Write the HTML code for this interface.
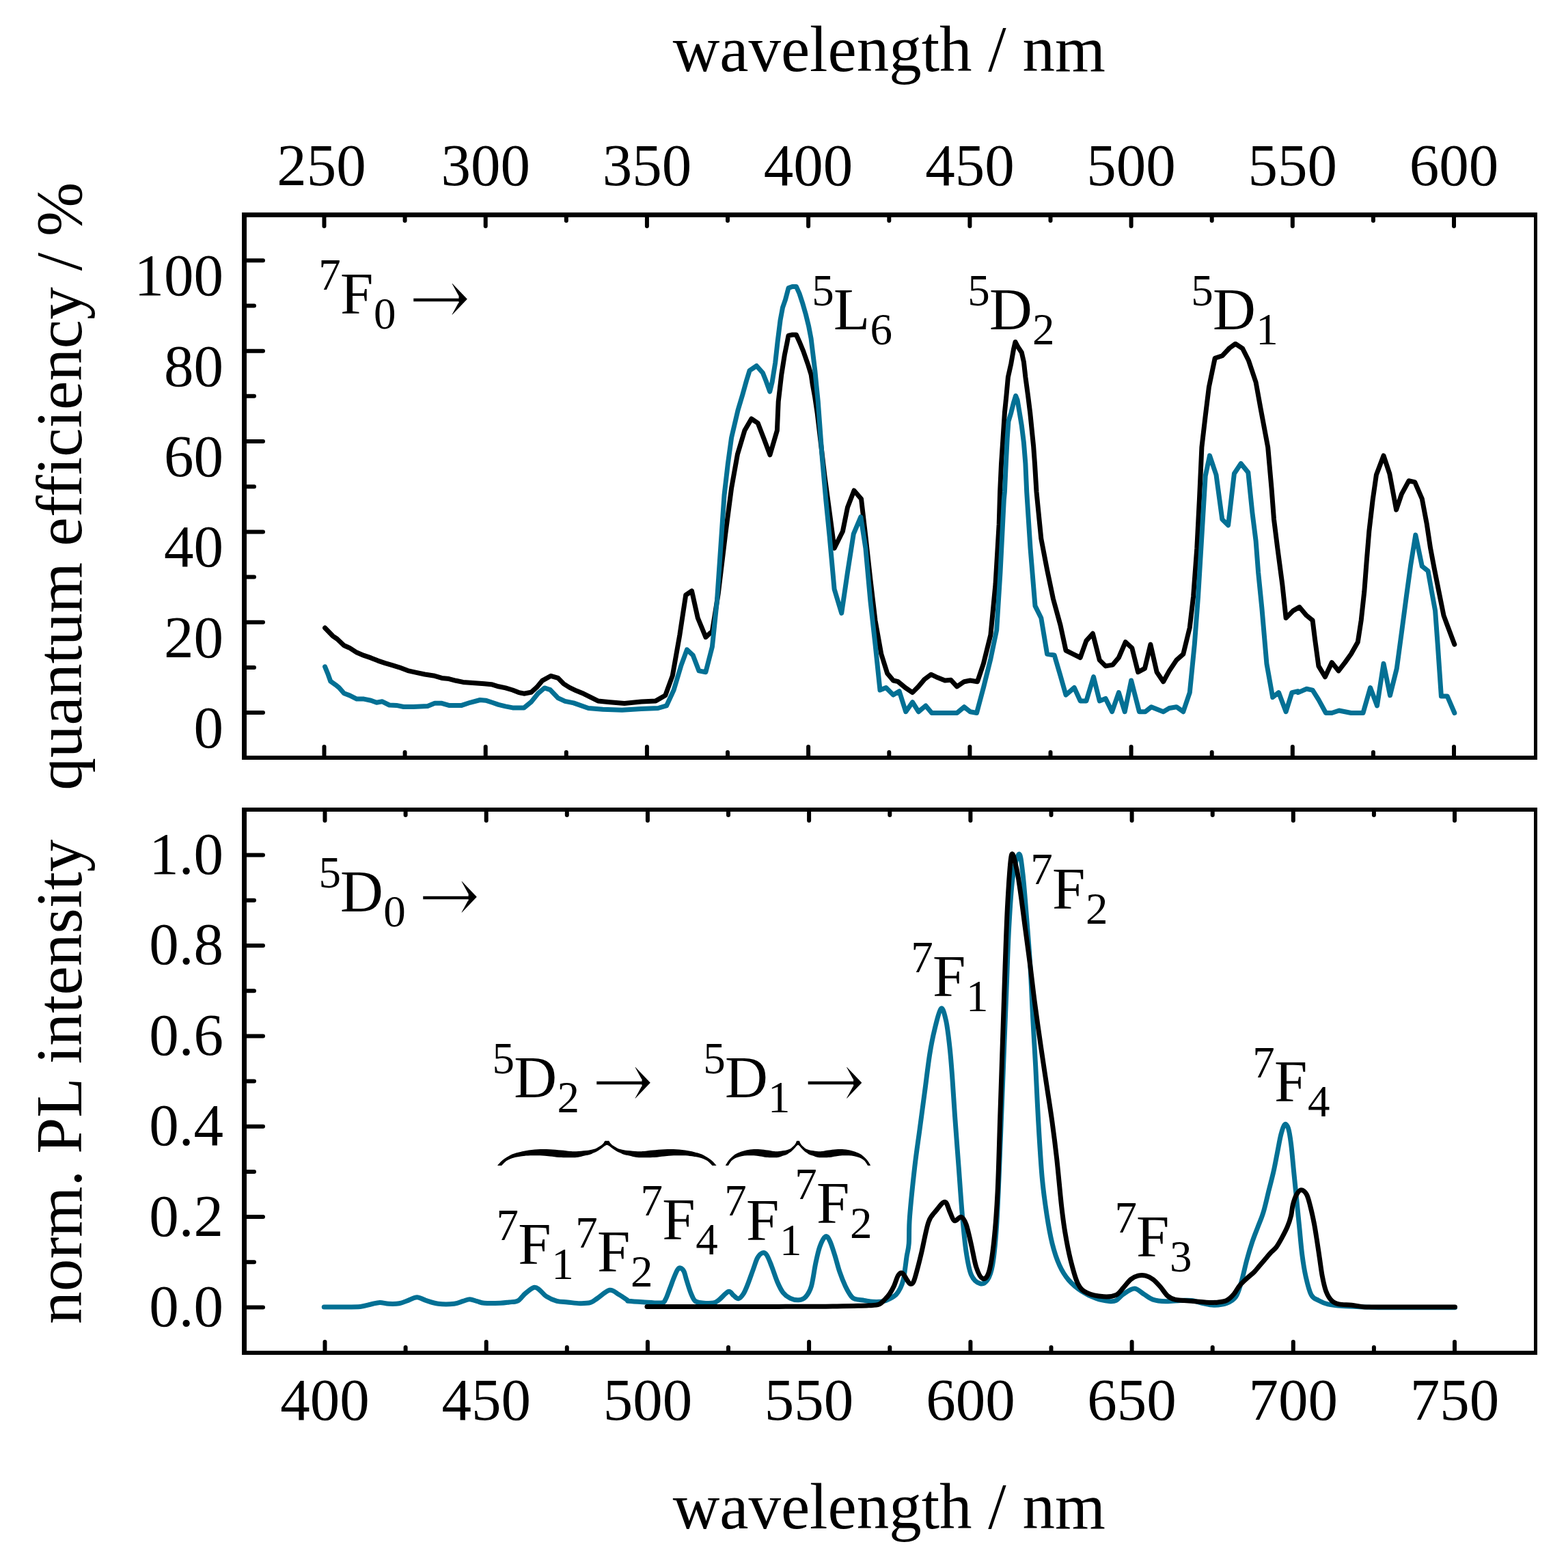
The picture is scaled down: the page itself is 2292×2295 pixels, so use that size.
<!DOCTYPE html><html><head><meta charset="utf-8"><style>html,body{margin:0;padding:0;background:#fff}svg{display:block}</style></head><body><svg width="2292" height="2295" viewBox="0 0 2292 2295"><defs><clipPath id="cs0"><rect x="603.0" y="434.2" width="70" height="8"/></clipPath><clipPath id="cs1"><rect x="617.1" y="1309.1" width="70" height="8"/></clipPath><clipPath id="cs2"><rect x="871.0" y="1580.8" width="70" height="8"/></clipPath><clipPath id="cs3"><rect x="1180.6" y="1580.8" width="70" height="8"/></clipPath><clipPath id="ch0"><path clip-rule="evenodd" d="M655.0,408.2h45v60h-45z M655.0,433.0h16.5v10.4h-16.5z"/></clipPath><clipPath id="ch1"><path clip-rule="evenodd" d="M669.1,1283.1h45v60h-45z M669.1,1307.9h16.5v10.4h-16.5z"/></clipPath><clipPath id="ch2"><path clip-rule="evenodd" d="M923.0,1554.8h45v60h-45z M923.0,1579.6h16.5v10.4h-16.5z"/></clipPath><clipPath id="ch3"><path clip-rule="evenodd" d="M1232.6,1554.8h45v60h-45z M1232.6,1579.6h16.5v10.4h-16.5z"/></clipPath></defs>
<line x1="357.5" y1="311.0" x2="357.5" y2="1112.0" stroke="#000" stroke-width="7"/>
<line x1="2247.5" y1="311.0" x2="2247.5" y2="1112.0" stroke="#000" stroke-width="5"/>
<line x1="354.0" y1="314.5" x2="2250.0" y2="314.5" stroke="#000" stroke-width="7"/>
<line x1="354.0" y1="1109.0" x2="2250.0" y2="1109.0" stroke="#000" stroke-width="6"/>
<line x1="357.5" y1="1182.0" x2="357.5" y2="1983.0" stroke="#000" stroke-width="7"/>
<line x1="2247.5" y1="1182.0" x2="2247.5" y2="1983.0" stroke="#000" stroke-width="5"/>
<line x1="354.0" y1="1185.0" x2="2250.0" y2="1185.0" stroke="#000" stroke-width="6"/>
<line x1="354.0" y1="1980.0" x2="2250.0" y2="1980.0" stroke="#000" stroke-width="6"/>
<path d="M474.5,318.0V331.0 M474.5,1106.0V1093.0 M592.6,318.0V323.0 M592.6,1106.0V1101.0 M710.7,318.0V331.0 M710.7,1106.0V1093.0 M828.8,318.0V323.0 M828.8,1106.0V1101.0 M946.9,318.0V331.0 M946.9,1106.0V1093.0 M1065.0,318.0V323.0 M1065.0,1106.0V1101.0 M1183.1,318.0V331.0 M1183.1,1106.0V1093.0 M1301.3,318.0V323.0 M1301.3,1106.0V1101.0 M1419.4,318.0V331.0 M1419.4,1106.0V1093.0 M1537.5,318.0V323.0 M1537.5,1106.0V1101.0 M1655.6,318.0V331.0 M1655.6,1106.0V1093.0 M1773.7,318.0V323.0 M1773.7,1106.0V1101.0 M1891.8,318.0V331.0 M1891.8,1106.0V1093.0 M2009.9,318.0V323.0 M2009.9,1106.0V1101.0 M2128.0,318.0V331.0 M2128.0,1106.0V1093.0 M475.5,1188.0V1201.0 M475.5,1977.0V1964.0 M593.6,1188.0V1193.0 M593.6,1977.0V1972.0 M711.7,1188.0V1201.0 M711.7,1977.0V1964.0 M829.8,1188.0V1193.0 M829.8,1977.0V1972.0 M947.9,1188.0V1201.0 M947.9,1977.0V1964.0 M1066.0,1188.0V1193.0 M1066.0,1977.0V1972.0 M1184.1,1188.0V1201.0 M1184.1,1977.0V1964.0 M1302.3,1188.0V1193.0 M1302.3,1977.0V1972.0 M1420.4,1188.0V1201.0 M1420.4,1977.0V1964.0 M1538.5,1188.0V1193.0 M1538.5,1977.0V1972.0 M1656.6,1188.0V1201.0 M1656.6,1977.0V1964.0 M1774.7,1188.0V1193.0 M1774.7,1977.0V1972.0 M1892.8,1188.0V1201.0 M1892.8,1977.0V1964.0 M2010.9,1188.0V1193.0 M2010.9,1977.0V1972.0 M2129.0,1188.0V1201.0 M2129.0,1977.0V1964.0 M361,1043.1h24 M361,976.9h11 M361,910.7h24 M361,844.6h11 M361,778.4h24 M361,712.2h11 M361,646.0h24 M361,579.8h11 M361,513.7h24 M361,447.5h11 M361,381.3h24 M361,1913.5h24 M361,1847.3h11 M361,1781.1h24 M361,1714.9h11 M361,1648.7h24 M361,1582.5h11 M361,1516.4h24 M361,1450.2h11 M361,1384.0h24 M361,1317.8h11 M361,1251.6h24" stroke="#000" stroke-width="6" stroke-linecap="round" fill="none"/>
<g font-family='"Liberation Serif", serif' font-size="87"><text x="470.5" y="270.8" text-anchor="middle">250</text><text x="710.7" y="270.8" text-anchor="middle">300</text><text x="946.9" y="270.8" text-anchor="middle">350</text><text x="1183.1" y="270.8" text-anchor="middle">400</text><text x="1419.4" y="270.8" text-anchor="middle">450</text><text x="1655.6" y="270.8" text-anchor="middle">500</text><text x="1891.8" y="270.8" text-anchor="middle">550</text><text x="2128.0" y="270.8" text-anchor="middle">600</text><text x="475.5" y="2078.2" text-anchor="middle">400</text><text x="711.7" y="2078.2" text-anchor="middle">450</text><text x="947.9" y="2078.2" text-anchor="middle">500</text><text x="1184.1" y="2078.2" text-anchor="middle">550</text><text x="1420.4" y="2078.2" text-anchor="middle">600</text><text x="1656.6" y="2078.2" text-anchor="middle">650</text><text x="1892.8" y="2078.2" text-anchor="middle">700</text><text x="2129.0" y="2078.2" text-anchor="middle">750</text><text x="327" y="1093.9" text-anchor="end">0</text><text x="327" y="961.5" text-anchor="end">20</text><text x="327" y="829.2" text-anchor="end">40</text><text x="327" y="696.8" text-anchor="end">60</text><text x="327" y="564.5" text-anchor="end">80</text><text x="327" y="432.1" text-anchor="end">100</text><text x="327" y="1940.9" text-anchor="end">0.0</text><text x="327" y="1808.5" text-anchor="end">0.2</text><text x="327" y="1676.1" text-anchor="end">0.4</text><text x="327" y="1543.8" text-anchor="end">0.6</text><text x="327" y="1411.4" text-anchor="end">0.8</text><text x="327" y="1279.0" text-anchor="end">1.0</text></g>
<g font-family='"Liberation Serif", serif' font-size="95">
<text x="984.7" y="104">wavelength / nm</text>
<text x="984.7" y="2237">wavelength / nm</text>
<text transform="translate(118.5,1156.7) rotate(-90)" font-size="95.3">quantum efficiency / %</text>
<text transform="translate(118.5,1937.9) rotate(-90)" font-size="95.4">norm. PL intensity</text>
</g>
<g font-family='"Liberation Serif", serif'>
<text x="497.9" y="458.9" font-size="87">F</text><text x="466.2" y="423.6" font-size="65">7</text><text x="546.9" y="480.9" font-size="65">0</text><g clip-path="url(#cs0)"><text transform="translate(602.0,473.8) scale(0.988,1.063)" font-family='"Noto Serif CJK SC", serif' font-size="87" stroke="#000" stroke-width="0.4">→</text></g><g clip-path="url(#ch0)"><text transform="translate(598.9,474.1) scale(1.215,1.282)" font-family='"DejaVu Serif", serif' font-size="87">→</text></g>
<text x="1219.9" y="482" font-size="87">L</text><text x="1188.2" y="446.7" font-size="65">5</text><text x="1273.6" y="504.0" font-size="65">6</text>
<text x="1447.9" y="482" font-size="87">D</text><text x="1416.2" y="446.7" font-size="65">5</text><text x="1511.1" y="504.0" font-size="65">2</text>
<text x="1775.0" y="482" font-size="87">D</text><text x="1743.3" y="446.7" font-size="65">5</text><text x="1838.2" y="504.0" font-size="65">1</text>
<text x="498.1" y="1333.8" font-size="87">D</text><text x="466.4" y="1298.5" font-size="65">5</text><text x="561.3" y="1355.8" font-size="65">0</text><g clip-path="url(#cs1)"><text transform="translate(616.1,1348.7) scale(0.988,1.063)" font-family='"Noto Serif CJK SC", serif' font-size="87" stroke="#000" stroke-width="0.4">→</text></g><g clip-path="url(#ch1)"><text transform="translate(613.0,1349.0) scale(1.215,1.282)" font-family='"DejaVu Serif", serif' font-size="87">→</text></g>
<text x="1539.9" y="1329.7" font-size="87">F</text><text x="1508.2" y="1294.4" font-size="65">7</text><text x="1588.9" y="1351.7" font-size="65">2</text>
<text x="1364.9" y="1457.9" font-size="87">F</text><text x="1333.2" y="1422.6" font-size="65">7</text><text x="1413.9" y="1479.9" font-size="65">1</text>
<text x="752.3" y="1606.2" font-size="87">D</text><text x="720.6" y="1570.9" font-size="65">5</text><text x="815.5" y="1628.2" font-size="65">2</text><g clip-path="url(#cs2)"><text transform="translate(870.0,1620.4) scale(0.988,1.063)" font-family='"Noto Serif CJK SC", serif' font-size="87" stroke="#000" stroke-width="0.4">→</text></g><g clip-path="url(#ch2)"><text transform="translate(866.9,1620.7) scale(1.215,1.282)" font-family='"DejaVu Serif", serif' font-size="87">→</text></g>
<text x="1060.9" y="1606.2" font-size="87">D</text><text x="1029.2" y="1570.9" font-size="65">5</text><text x="1124.1" y="1628.2" font-size="65">1</text><g clip-path="url(#cs3)"><text transform="translate(1179.6,1620.4) scale(0.988,1.063)" font-family='"Noto Serif CJK SC", serif' font-size="87" stroke="#000" stroke-width="0.4">→</text></g><g clip-path="url(#ch3)"><text transform="translate(1176.5,1620.7) scale(1.215,1.282)" font-family='"DejaVu Serif", serif' font-size="87">→</text></g>
<text x="758.2" y="1850.2" font-size="87">F</text><text x="726.5" y="1814.9" font-size="65">7</text><text x="807.2" y="1872.2" font-size="65">1</text>
<text x="873.9" y="1861.1" font-size="87">F</text><text x="842.2" y="1825.8" font-size="65">7</text><text x="922.9" y="1883.1" font-size="65">2</text>
<text x="969.2" y="1814" font-size="87">F</text><text x="937.5" y="1778.7" font-size="65">7</text><text x="1018.2" y="1836.0" font-size="65">4</text>
<text x="1092.0" y="1814.7" font-size="87">F</text><text x="1060.3" y="1779.4" font-size="65">7</text><text x="1141.0" y="1836.7" font-size="65">1</text>
<text x="1195.0" y="1790" font-size="87">F</text><text x="1163.3" y="1754.7" font-size="65">7</text><text x="1244.0" y="1812.0" font-size="65">2</text>
<text x="1663.1" y="1839" font-size="87">F</text><text x="1631.4" y="1803.7" font-size="65">7</text><text x="1712.1" y="1861.0" font-size="65">3</text>
<text x="1864.9" y="1611.9" font-size="87">F</text><text x="1833.2" y="1576.6" font-size="65">7</text><text x="1913.9" y="1633.9" font-size="65">4</text>
</g>
<path d="M728.00,1706.00C728.80,1705.08 731.21,1702.10 732.81,1700.50C734.41,1698.90 735.48,1697.90 737.62,1696.40C739.76,1694.90 742.69,1692.97 745.63,1691.50C748.57,1690.03 751.24,1688.80 755.25,1687.60C759.26,1686.40 764.41,1685.18 769.68,1684.30C774.94,1683.42 781.03,1682.63 786.83,1682.30C792.63,1681.97 798.77,1682.08 804.46,1682.30C810.15,1682.52 815.98,1683.15 820.97,1683.60C825.97,1684.05 830.70,1684.73 834.44,1685.00C838.18,1685.27 839.52,1685.35 843.42,1685.20C847.32,1685.05 853.76,1684.58 857.84,1684.10C861.93,1683.62 865.30,1682.95 867.94,1682.30C870.59,1681.65 871.90,1681.07 873.71,1680.20C875.53,1679.33 877.53,1677.97 878.84,1677.10C880.15,1676.23 880.74,1675.78 881.57,1675.00C882.40,1674.22 883.17,1673.22 883.81,1672.40C884.45,1671.58 884.67,1670.52 885.41,1670.10C886.16,1669.68 887.82,1669.93 888.30,1669.90L888.30,1669.90C888.78,1669.93 890.44,1669.68 891.19,1670.10C891.93,1670.52 892.15,1671.58 892.79,1672.40C893.43,1673.22 894.20,1674.22 895.03,1675.00C895.86,1675.78 896.45,1676.23 897.76,1677.10C899.07,1677.97 901.07,1679.33 902.89,1680.20C904.70,1681.07 906.01,1681.65 908.66,1682.30C911.30,1682.95 914.67,1683.62 918.76,1684.10C922.84,1684.58 929.28,1685.05 933.18,1685.20C937.08,1685.35 938.42,1685.27 942.16,1685.00C945.90,1684.73 950.63,1684.05 955.63,1683.60C960.62,1683.15 966.45,1682.52 972.14,1682.30C977.83,1682.08 983.97,1681.97 989.77,1682.30C995.57,1682.63 1001.66,1683.42 1006.92,1684.30C1012.19,1685.18 1017.34,1686.40 1021.35,1687.60C1025.36,1688.80 1028.03,1690.03 1030.97,1691.50C1033.91,1692.97 1036.84,1694.90 1038.98,1696.40C1041.12,1697.90 1042.19,1698.90 1043.79,1700.50C1045.39,1702.10 1047.80,1705.08 1048.60,1706.00L1042.51,1706.00C1041.79,1705.25 1039.62,1702.80 1038.18,1701.50C1036.74,1700.20 1036.12,1699.35 1033.85,1698.20C1031.58,1697.05 1028.08,1695.58 1024.55,1694.60C1021.03,1693.62 1016.70,1692.85 1012.69,1692.30C1008.69,1691.75 1004.94,1691.47 1000.51,1691.30C996.08,1691.13 990.89,1691.08 986.08,1691.30C981.27,1691.52 976.36,1692.15 971.66,1692.60C966.95,1693.05 963.11,1693.73 957.87,1694.00C952.63,1694.27 944.81,1694.25 940.24,1694.20C935.67,1694.15 933.66,1694.13 930.46,1693.70C927.25,1693.27 923.91,1692.25 921.00,1691.60C918.09,1690.95 915.15,1690.47 912.99,1689.80C910.82,1689.13 909.70,1688.37 908.02,1687.60C906.33,1686.83 904.52,1686.10 902.89,1685.20C901.26,1684.30 899.71,1683.20 898.24,1682.20C896.77,1681.20 895.33,1680.10 894.07,1679.20C892.82,1678.30 891.67,1677.37 890.70,1676.80C889.74,1676.23 888.70,1675.97 888.30,1675.80L888.30,1675.80C887.90,1675.97 886.86,1676.23 885.90,1676.80C884.93,1677.37 883.78,1678.30 882.53,1679.20C881.27,1680.10 879.83,1681.20 878.36,1682.20C876.89,1683.20 875.34,1684.30 873.71,1685.20C872.08,1686.10 870.27,1686.83 868.58,1687.60C866.90,1688.37 865.78,1689.13 863.61,1689.80C861.45,1690.47 858.51,1690.95 855.60,1691.60C852.69,1692.25 849.35,1693.27 846.14,1693.70C842.94,1694.13 840.93,1694.15 836.36,1694.20C831.79,1694.25 823.97,1694.27 818.73,1694.00C813.49,1693.73 809.65,1693.05 804.94,1692.60C800.24,1692.15 795.33,1691.52 790.52,1691.30C785.71,1691.08 780.52,1691.13 776.09,1691.30C771.66,1691.47 767.91,1691.75 763.91,1692.30C759.90,1692.85 755.57,1693.62 752.04,1694.60C748.52,1695.58 745.02,1697.05 742.75,1698.20C740.48,1699.35 739.86,1700.20 738.42,1701.50C736.98,1702.80 734.81,1705.25 734.09,1706.00Z" fill="#000"/>
<path d="M1061.80,1706.00C1062.33,1705.08 1063.92,1702.10 1064.99,1700.50C1066.05,1698.90 1066.76,1697.90 1068.17,1696.40C1069.59,1694.90 1071.53,1692.97 1073.48,1691.50C1075.43,1690.03 1077.20,1688.80 1079.85,1687.60C1082.51,1686.40 1085.93,1685.18 1089.41,1684.30C1092.90,1683.42 1096.93,1682.63 1100.78,1682.30C1104.62,1681.97 1108.69,1682.08 1112.46,1682.30C1116.23,1682.52 1120.09,1683.15 1123.40,1683.60C1126.71,1684.05 1129.84,1684.73 1132.32,1685.00C1134.79,1685.27 1135.68,1685.35 1138.26,1685.20C1140.85,1685.05 1145.11,1684.58 1147.82,1684.10C1150.53,1683.62 1152.76,1682.95 1154.51,1682.30C1156.26,1681.65 1157.13,1681.07 1158.34,1680.20C1159.54,1679.33 1160.87,1677.97 1161.73,1677.10C1162.60,1676.23 1162.99,1675.78 1163.54,1675.00C1164.09,1674.22 1164.60,1673.22 1165.03,1672.40C1165.45,1671.58 1165.59,1670.52 1166.09,1670.10C1166.58,1669.68 1167.68,1669.93 1168.00,1669.90L1168.00,1669.90C1168.32,1669.93 1169.42,1669.68 1169.91,1670.10C1170.41,1670.52 1170.55,1671.58 1170.97,1672.40C1171.40,1673.22 1171.91,1674.22 1172.46,1675.00C1173.01,1675.78 1173.40,1676.23 1174.27,1677.10C1175.13,1677.97 1176.46,1679.33 1177.66,1680.20C1178.87,1681.07 1179.74,1681.65 1181.49,1682.30C1183.24,1682.95 1185.47,1683.62 1188.18,1684.10C1190.89,1684.58 1195.15,1685.05 1197.74,1685.20C1200.32,1685.35 1201.21,1685.27 1203.68,1685.00C1206.16,1684.73 1209.29,1684.05 1212.60,1683.60C1215.91,1683.15 1219.77,1682.52 1223.54,1682.30C1227.31,1682.08 1231.38,1681.97 1235.22,1682.30C1239.07,1682.63 1243.10,1683.42 1246.59,1684.30C1250.07,1685.18 1253.49,1686.40 1256.15,1687.60C1258.80,1688.80 1260.57,1690.03 1262.52,1691.50C1264.47,1692.97 1266.41,1694.90 1267.83,1696.40C1269.24,1697.90 1269.95,1698.90 1271.01,1700.50C1272.08,1702.10 1273.67,1705.08 1274.20,1706.00L1270.16,1706.00C1269.69,1705.25 1268.25,1702.80 1267.30,1701.50C1266.34,1700.20 1265.93,1699.35 1264.43,1698.20C1262.93,1697.05 1260.61,1695.58 1258.27,1694.60C1255.93,1693.62 1253.07,1692.85 1250.41,1692.30C1247.76,1691.75 1245.28,1691.47 1242.34,1691.30C1239.40,1691.13 1235.97,1691.08 1232.78,1691.30C1229.60,1691.52 1226.34,1692.15 1223.22,1692.60C1220.11,1693.05 1217.56,1693.73 1214.09,1694.00C1210.62,1694.27 1205.44,1694.25 1202.41,1694.20C1199.38,1694.15 1198.05,1694.13 1195.93,1693.70C1193.81,1693.27 1191.59,1692.25 1189.66,1691.60C1187.74,1690.95 1185.79,1690.47 1184.35,1689.80C1182.92,1689.13 1182.18,1688.37 1181.06,1687.60C1179.95,1686.83 1178.74,1686.10 1177.66,1685.20C1176.58,1684.30 1175.56,1683.20 1174.58,1682.20C1173.61,1681.20 1172.66,1680.10 1171.82,1679.20C1170.99,1678.30 1170.23,1677.37 1169.59,1676.80C1168.96,1676.23 1168.27,1675.97 1168.00,1675.80L1168.00,1675.80C1167.73,1675.97 1167.04,1676.23 1166.41,1676.80C1165.77,1677.37 1165.01,1678.30 1164.18,1679.20C1163.34,1680.10 1162.39,1681.20 1161.42,1682.20C1160.44,1683.20 1159.42,1684.30 1158.34,1685.20C1157.26,1686.10 1156.05,1686.83 1154.94,1687.60C1153.82,1688.37 1153.08,1689.13 1151.65,1689.80C1150.21,1690.47 1148.26,1690.95 1146.34,1691.60C1144.41,1692.25 1142.19,1693.27 1140.07,1693.70C1137.95,1694.13 1136.62,1694.15 1133.59,1694.20C1130.56,1694.25 1125.38,1694.27 1121.91,1694.00C1118.44,1693.73 1115.89,1693.05 1112.78,1692.60C1109.66,1692.15 1106.40,1691.52 1103.22,1691.30C1100.03,1691.08 1096.60,1691.13 1093.66,1691.30C1090.72,1691.47 1088.24,1691.75 1085.59,1692.30C1082.93,1692.85 1080.07,1693.62 1077.73,1694.60C1075.39,1695.58 1073.07,1697.05 1071.57,1698.20C1070.07,1699.35 1069.66,1700.20 1068.70,1701.50C1067.75,1702.80 1066.31,1705.25 1065.84,1706.00Z" fill="#000"/>
<polyline points="475.6,919.0 487.0,930.8 493.2,935.0 503.5,944.7 511.8,948.4 522.2,955.1 532.6,959.4 542.9,962.9 553.3,967.1 563.7,970.6 574.0,973.7 584.4,976.8 596.9,981.6 609.3,984.3 621.7,987.0 636.3,989.3 646.6,992.4 657.0,993.6 667.4,996.3 677.7,998.4 688.1,999.2 698.5,999.9 708.8,1000.7 719.2,1001.7 729.6,1004.8 739.9,1006.9 750.3,1010.0 758.6,1013.3 766.9,1015.2 777.3,1013.3 785.6,1005.9 793.9,996.1 806.3,989.3 816.7,992.4 825.0,1000.9 833.3,1006.1 843.6,1011.1 854.1,1015.3 875.2,1025.9 892.8,1027.7 913.9,1029.4 938.6,1027.0 959.7,1025.9 973.8,1017.8 984.3,988.9 994.9,929.1 1003.7,871.0 1012.5,865.0 1021.3,904.5 1032.9,932.6 1042.4,923.8 1051.2,869.3 1061.8,781.3 1070.6,714.4 1079.4,665.1 1089.9,629.9 1099.8,613.0 1109.3,619.4 1118.1,642.2 1126.9,665.8 1137.4,629.9 1139.2,587.9 1143.8,548.1 1148.3,519.6 1151.8,502.5 1154.0,491.1 1159.7,490.0 1165.4,490.0 1170.0,500.2 1175.7,513.9 1182.5,533.3 1187.1,548.1 1189.3,562.9 1192.8,582.2 1196.2,605.0 1207.0,696.8 1214.1,749.6 1221.1,802.4 1233.4,777.7 1240.5,742.5 1250.0,717.9 1260.5,730.2 1266.9,784.8 1273.9,848.1 1281.0,908.0 1289.8,957.3 1298.6,985.4 1307.4,996.0 1314.4,997.7 1325.0,1006.5 1335.5,1013.6 1344.3,1004.8 1353.1,994.2 1362.6,987.2 1372.5,991.8 1383.0,996.0 1391.8,995.3 1400.6,1004.8 1411.2,997.7 1420.0,996.0 1430.6,997.7 1439.4,971.3 1449.9,929.1 1457.0,855.2 1462.2,767.2 1463.6,720.0 1465.5,678.8 1468.0,641.5 1470.4,604.2 1472.9,579.4 1475.4,552.0 1479.8,532.2 1483.5,511.1 1486.0,500.5 1489.7,507.3 1495.3,516.0 1498.4,529.7 1500.9,552.0 1504.6,579.4 1507.7,604.2 1510.2,629.1 1512.7,653.9 1514.5,678.8 1517.0,720.0 1523.8,788.3 1532.6,834.1 1541.4,876.3 1552.0,915.0 1560.0,952.0 1570.6,957.3 1581.1,962.5 1589.9,937.9 1599.4,927.3 1609.3,966.1 1618.1,974.9 1628.6,973.1 1637.4,962.5 1647.3,939.7 1656.8,948.5 1665.6,983.7 1675.5,978.4 1683.9,943.2 1693.1,983.7 1702.6,997.7 1711.4,981.9 1721.9,966.1 1731.8,957.3 1741.3,918.5 1746.6,872.8 1751.8,802.4 1755.4,732.0 1758.9,654.6 1764.2,608.8 1769.4,566.6 1778.2,524.3 1788.8,520.8 1799.4,509.5 1808.2,503.2 1818.7,510.2 1827.5,527.8 1838.1,559.5 1845.1,598.2 1855.7,654.6 1861.0,714.4 1864.5,760.1 1869.8,802.4 1876.8,855.2 1882.1,904.5 1892.6,893.9 1901.8,888.6 1912.3,900.9 1921.1,908.0 1924.6,936.1 1929.9,974.9 1939.4,990.7 1949.3,969.6 1959.1,981.9 1968.6,969.6 1977.4,957.3 1987.3,939.7 1992.2,908.0 1996.8,865.7 2000.3,820.0 2003.8,777.7 2009.1,732.0 2014.4,695.0 2025.0,666.9 2033.8,693.3 2043.6,746.1 2051.4,723.2 2061.9,703.8 2070.7,705.6 2081.3,730.2 2088.3,767.2 2093.6,802.4 2098.9,830.5 2105.9,865.7 2113.0,900.9 2118.2,915.0 2128.8,943.2" fill="none" stroke="#000" stroke-width="7" stroke-linejoin="round" stroke-linecap="round"/>
<polyline points="475.6,975.8 479.7,985.8 483.8,997.2 491.1,1002.3 496.3,1006.5 503.5,1014.8 511.8,1017.9 522.2,1023.1 532.6,1023.1 542.9,1025.2 551.2,1028.3 559.5,1026.8 569.9,1032.0 580.3,1032.4 590.6,1034.5 605.2,1034.5 625.9,1033.4 636.3,1029.3 646.6,1029.3 657.0,1032.4 675.7,1032.4 688.1,1028.3 702.6,1024.5 710.9,1025.2 721.3,1028.5 729.6,1031.4 739.9,1033.9 750.3,1035.9 766.9,1035.9 777.3,1027.6 787.6,1014.8 797.0,1006.9 805.3,1009.6 816.7,1021.6 827.0,1026.4 839.5,1028.9 861.1,1036.5 882.2,1038.2 910.4,1039.3 938.6,1037.5 963.2,1036.5 975.5,1032.9 986.1,1010.1 996.6,974.9 1005.4,950.9 1014.2,959.0 1023.0,981.9 1032.9,983.7 1042.4,946.7 1049.4,879.8 1054.7,802.4 1060.0,724.9 1065.3,679.2 1070.6,640.5 1080.0,600.5 1086.8,577.7 1092.5,557.2 1097.1,542.4 1107.3,535.5 1116.4,545.8 1121.0,557.2 1126.7,573.1 1130.1,559.5 1134.7,531.0 1138.1,500.2 1142.1,468.3 1145.5,450.1 1149.5,438.7 1154.0,421.6 1159.7,419.4 1165.4,419.4 1170.0,429.6 1174.5,443.3 1179.1,459.2 1183.6,477.4 1187.1,495.7 1189.3,513.9 1192.8,542.4 1195.0,565.1 1197.3,587.9 1203.5,672.2 1208.8,732.0 1214.1,784.8 1221.1,862.2 1231.7,897.4 1240.5,837.6 1249.3,781.3 1259.8,756.6 1266.9,802.4 1273.9,879.8 1281.0,943.2 1288.0,1010.1 1296.8,1006.5 1307.4,1017.1 1316.2,1011.8 1325.7,1041.7 1335.5,1027.7 1344.3,1041.7 1354.9,1032.9 1363.7,1043.5 1400.6,1043.5 1411.2,1034.7 1420.0,1041.7 1429.5,1043.5 1439.4,1006.5 1449.9,964.3 1458.7,922.1 1464.0,837.6 1469.3,732.0 1470.4,720.0 1472.3,678.8 1474.2,641.5 1476.0,616.6 1479.8,604.2 1483.5,589.3 1486.6,579.4 1489.1,585.6 1492.2,604.2 1495.3,622.9 1498.4,647.7 1500.9,678.8 1502.7,720.0 1508.0,802.4 1515.0,886.9 1523.8,904.5 1532.6,957.3 1543.2,959.0 1552.0,988.9 1560.0,1017.1 1572.3,1006.5 1581.1,1025.9 1589.9,1025.9 1600.5,990.7 1609.3,1025.9 1618.1,1022.4 1627.6,1041.7 1637.4,1013.6 1646.2,1041.7 1655.7,996.0 1667.4,1041.7 1676.2,1041.7 1685.0,1034.7 1702.6,1041.7 1711.4,1036.5 1721.9,1034.7 1731.8,1041.7 1741.3,1013.6 1748.3,943.2 1753.6,872.8 1758.9,784.8 1764.2,696.8 1770.5,666.9 1780.0,695.0 1788.8,760.1 1797.6,768.9 1806.4,693.3 1816.2,678.5 1826.8,691.5 1832.8,749.6 1838.1,791.8 1841.6,837.6 1846.9,890.4 1853.9,971.3 1862.7,1020.6 1871.5,1013.6 1882.1,1041.7 1890.9,1013.6 1899.7,1011.8 1900.0,1013.6 1912.3,1008.3 1921.1,1010.1 1929.9,1024.1 1940.5,1043.5 1949.3,1043.5 1959.8,1040.0 1977.4,1043.5 1995.0,1043.5 2005.6,1006.5 2015.5,1032.9 2025.0,971.3 2034.5,1017.8 2044.3,978.4 2051.4,925.6 2058.4,872.8 2064.7,827.0 2071.8,783.0 2081.3,828.8 2090.1,835.8 2095.4,865.7 2100.6,893.9 2104.2,943.2 2109.4,1018.9 2118.2,1018.9 2128.8,1043.5" fill="none" stroke="#037094" stroke-width="7" stroke-linejoin="round" stroke-linecap="round"/>
<path d="M474.26,1912.93C478.36,1912.93 490.02,1913.02 498.88,1912.93C507.74,1912.84 520.05,1913.06 527.39,1912.41C534.74,1911.76 538.19,1910.03 542.94,1909.04C547.70,1908.05 551.58,1906.58 555.90,1906.45C560.22,1906.32 564.11,1908.05 568.86,1908.26C573.62,1908.48 579.66,1908.57 584.42,1907.74C589.17,1906.92 593.06,1904.85 597.38,1903.34C601.70,1901.83 606.02,1898.67 610.34,1898.67C614.66,1898.67 618.11,1901.74 623.30,1903.34C628.48,1904.94 634.53,1907.44 641.44,1908.26C648.35,1909.08 658.72,1908.91 664.77,1908.26C670.82,1907.62 673.93,1905.46 677.73,1904.38C681.53,1903.30 684.12,1901.74 687.58,1901.78C691.04,1901.83 694.92,1903.73 698.47,1904.63C702.01,1905.54 703.22,1906.79 708.83,1907.23C714.45,1907.66 726.11,1907.44 732.16,1907.23C738.21,1907.01 740.80,1906.49 745.12,1905.93C749.44,1905.37 754.19,1905.93 758.08,1903.86C761.97,1901.78 764.56,1896.73 768.45,1893.49C772.34,1890.25 777.95,1885.41 781.41,1884.42C784.87,1883.42 786.16,1885.37 789.19,1887.53C792.21,1889.69 795.23,1894.57 799.55,1897.38C803.87,1900.18 809.92,1902.95 815.11,1904.38C820.29,1905.80 825.04,1905.37 830.66,1905.93C836.27,1906.49 843.19,1907.66 848.80,1907.74C854.42,1907.83 860.03,1907.74 864.35,1906.45C868.67,1905.15 870.06,1902.99 874.72,1899.97C879.39,1896.94 887.16,1889.17 892.35,1888.30C897.53,1887.44 901.42,1892.28 905.83,1894.78C910.23,1897.29 916.42,1901.76 918.79,1903.34C921.15,1904.92 916.34,1903.86 920.00,1904.25C923.66,1904.64 932.79,1905.25 940.74,1905.70C948.68,1906.15 962.16,1907.53 967.69,1906.95C973.22,1906.36 971.84,1905.56 973.91,1902.18C975.99,1898.79 978.06,1891.98 980.13,1886.63C982.21,1881.27 984.45,1874.70 986.36,1870.04C988.26,1865.37 989.98,1860.98 991.54,1858.63C993.09,1856.28 994.13,1855.59 995.69,1855.94C997.24,1856.28 999.32,1857.66 1000.87,1860.71C1002.43,1863.75 1003.29,1868.83 1005.02,1874.18C1006.75,1879.54 1009.17,1887.83 1011.24,1892.85C1013.31,1897.86 1014.70,1901.90 1017.46,1904.25C1020.22,1906.60 1023.34,1906.50 1027.83,1906.95C1032.32,1907.40 1040.27,1907.74 1044.42,1906.95C1048.56,1906.15 1049.08,1904.94 1052.71,1902.18C1056.34,1899.41 1062.73,1891.39 1066.19,1890.36C1069.65,1889.32 1071.03,1894.23 1073.45,1895.96C1075.87,1897.68 1078.29,1901.07 1080.71,1900.73C1083.12,1900.38 1085.72,1897.27 1087.96,1893.88C1090.21,1890.50 1091.76,1886.45 1094.18,1880.40C1096.60,1874.36 1100.06,1864.16 1102.48,1857.59C1104.90,1851.03 1106.45,1844.98 1108.70,1841.01C1110.95,1837.03 1113.71,1834.44 1115.96,1833.75C1118.20,1833.06 1119.93,1833.58 1122.18,1836.86C1124.42,1840.14 1126.84,1846.88 1129.43,1853.45C1132.03,1860.01 1134.96,1869.86 1137.73,1876.26C1140.49,1882.65 1142.91,1887.83 1146.02,1891.81C1149.13,1895.78 1152.59,1898.27 1156.39,1900.10C1160.19,1901.94 1165.03,1903.14 1168.83,1902.80C1172.64,1902.45 1176.09,1901.42 1179.20,1898.03C1182.31,1894.64 1185.08,1890.60 1187.50,1882.48C1189.92,1874.36 1191.64,1858.98 1193.72,1849.30C1195.79,1839.62 1197.52,1830.98 1199.94,1824.42C1202.36,1817.85 1205.81,1811.28 1208.23,1809.90C1210.65,1808.52 1212.21,1811.63 1214.45,1816.12C1216.70,1820.62 1219.29,1829.26 1221.71,1836.86C1224.13,1844.46 1226.38,1854.14 1228.97,1861.74C1231.56,1869.35 1234.39,1876.47 1237.26,1882.48C1240.14,1888.49 1243.69,1894.61 1246.22,1897.78C1248.75,1900.96 1249.33,1900.58 1252.45,1901.52C1255.56,1902.45 1260.74,1902.76 1264.89,1903.39C1269.04,1904.01 1272.67,1905.04 1277.34,1905.25C1282.00,1905.46 1288.75,1905.36 1292.89,1904.63C1297.04,1903.90 1299.12,1902.56 1302.23,1900.90C1305.34,1899.24 1308.97,1897.27 1311.56,1894.67C1314.15,1892.08 1316.02,1888.97 1317.78,1885.34C1319.55,1881.71 1321.00,1877.56 1322.14,1872.89C1323.28,1868.23 1323.80,1863.04 1324.63,1857.34C1325.46,1851.63 1326.19,1844.89 1327.12,1838.67C1328.05,1832.45 1329.51,1829.57 1330.23,1820.00C1330.95,1810.43 1330.02,1799.97 1331.45,1781.27C1332.88,1762.56 1336.35,1729.20 1338.80,1707.77C1341.25,1686.33 1343.70,1671.01 1346.15,1652.64C1348.60,1634.26 1351.05,1615.89 1353.50,1597.51C1355.95,1579.14 1358.40,1557.70 1360.85,1542.39C1363.30,1527.07 1365.45,1516.66 1368.20,1505.63C1370.96,1494.61 1374.63,1478.07 1377.39,1476.23C1380.15,1474.40 1382.60,1484.81 1384.74,1494.61C1386.88,1504.41 1388.72,1520.95 1390.25,1535.03C1391.78,1549.12 1392.70,1562.60 1393.93,1579.14C1395.15,1595.67 1396.07,1612.82 1397.60,1634.26C1399.14,1655.70 1401.28,1683.26 1403.12,1707.77C1404.95,1732.27 1406.79,1760.44 1408.63,1781.27C1410.47,1802.09 1412.00,1818.63 1414.14,1832.72C1416.29,1846.81 1418.12,1858.14 1421.49,1865.80C1424.86,1873.45 1430.37,1877.43 1434.36,1878.66C1438.34,1879.88 1442.32,1877.74 1445.38,1873.15C1448.44,1868.55 1450.59,1863.35 1452.73,1851.10C1454.87,1838.84 1456.71,1820.47 1458.24,1799.64C1459.77,1778.82 1460.69,1753.70 1461.92,1726.14C1463.14,1698.58 1464.37,1664.89 1465.59,1634.26C1466.82,1603.64 1468.04,1573.01 1469.27,1542.39C1470.49,1511.76 1471.72,1481.13 1472.94,1450.51C1474.17,1419.88 1475.09,1386.19 1476.62,1358.63C1478.15,1331.07 1479.68,1303.20 1482.13,1285.13C1484.58,1267.06 1488.87,1251.44 1491.32,1250.21C1493.77,1248.99 1494.99,1262.77 1496.83,1277.78C1498.67,1292.78 1500.51,1317.59 1502.34,1340.25C1504.18,1362.92 1506.33,1389.26 1507.86,1413.76C1509.39,1438.26 1510.22,1462.64 1511.53,1487.26C1512.85,1511.88 1514.37,1535.64 1515.75,1561.46C1517.12,1587.29 1518.21,1615.29 1519.78,1642.20C1521.35,1669.11 1523.15,1700.50 1525.17,1722.93C1527.19,1745.35 1529.43,1760.60 1531.89,1776.75C1534.36,1792.90 1536.83,1807.25 1539.97,1819.81C1543.11,1832.36 1546.70,1843.13 1550.73,1852.10C1554.77,1861.07 1558.81,1867.35 1564.19,1873.63C1569.57,1879.91 1576.30,1885.29 1583.02,1889.77C1589.75,1894.26 1597.83,1898.07 1604.55,1900.54C1611.28,1903.01 1618.57,1904.08 1623.39,1904.57C1628.21,1905.07 1630.00,1905.24 1633.48,1903.49C1636.96,1901.73 1639.77,1896.97 1644.26,1894.05C1648.75,1891.13 1655.49,1885.96 1660.44,1885.96C1665.38,1885.96 1669.42,1891.35 1673.91,1894.05C1678.41,1896.75 1682.00,1900.34 1687.39,1902.14C1692.78,1903.93 1699.52,1904.61 1706.26,1904.83C1713.00,1905.06 1721.54,1903.71 1727.83,1903.49C1734.12,1903.26 1738.61,1902.81 1744.00,1903.49C1749.39,1904.16 1754.79,1906.41 1760.18,1907.53C1765.57,1908.65 1770.51,1910.22 1776.35,1910.22C1782.19,1910.22 1789.83,1909.55 1795.22,1907.53C1800.61,1905.51 1805.11,1903.26 1808.70,1898.09C1812.29,1892.93 1814.09,1885.51 1816.79,1876.53C1819.48,1867.54 1822.18,1854.06 1824.87,1844.18C1827.57,1834.30 1830.27,1825.31 1832.96,1817.22C1835.66,1809.14 1838.35,1802.85 1841.05,1795.66C1843.74,1788.47 1846.44,1783.08 1849.14,1774.09C1851.83,1765.11 1854.75,1751.63 1857.22,1741.74C1859.69,1731.86 1861.94,1723.77 1863.96,1714.79C1865.98,1705.80 1867.56,1696.81 1869.35,1687.83C1871.15,1678.84 1872.95,1667.84 1874.74,1660.87C1876.54,1653.91 1878.34,1647.62 1880.14,1646.04C1881.93,1644.47 1883.95,1646.72 1885.53,1651.44C1887.10,1656.15 1888.22,1663.79 1889.57,1674.35C1890.92,1684.91 1892.27,1701.31 1893.61,1714.79C1894.96,1728.26 1896.31,1741.74 1897.66,1755.22C1899.01,1768.70 1900.35,1782.18 1901.70,1795.66C1903.05,1809.14 1904.17,1823.96 1905.75,1836.09C1907.32,1848.22 1908.89,1858.56 1911.14,1868.44C1913.38,1878.33 1916.08,1889.56 1919.22,1895.40C1922.37,1901.24 1925.96,1901.24 1930.01,1903.49C1934.05,1905.73 1937.64,1907.53 1943.49,1908.88C1949.33,1910.22 1956.06,1910.90 1965.05,1911.57C1974.04,1912.25 1987.51,1912.56 1997.40,1912.92C2007.28,1913.28 2002.34,1913.59 2024.36,1913.73C2046.37,1913.86 2111.97,1913.73 2129.49,1913.73" fill="none" stroke="#037094" stroke-width="7" stroke-linejoin="round" stroke-linecap="round"/>
<path d="M946.96,1912.55C959.74,1912.55 993.61,1912.55 1023.68,1912.55C1053.75,1912.55 1104.64,1912.60 1127.36,1912.55C1150.09,1912.49 1147.93,1912.28 1160.04,1912.22C1172.14,1912.17 1189.16,1912.27 1199.99,1912.22C1210.82,1912.17 1216.67,1912.03 1225.00,1911.91C1233.33,1911.79 1242.27,1911.65 1249.96,1911.47C1257.64,1911.30 1264.99,1911.27 1271.11,1910.85C1277.23,1910.44 1282.52,1910.65 1286.67,1908.99C1290.82,1907.33 1293.41,1903.49 1296.00,1900.90C1298.60,1898.30 1300.15,1896.54 1302.23,1893.43C1304.30,1890.32 1306.38,1886.69 1308.45,1882.23C1310.52,1877.77 1312.60,1869.78 1314.67,1866.67C1316.75,1863.56 1318.82,1862.52 1320.90,1863.56C1322.97,1864.60 1325.25,1870.30 1327.12,1872.89C1328.99,1875.49 1330.44,1878.60 1332.10,1879.12C1333.76,1879.63 1335.31,1879.63 1337.08,1876.00C1338.84,1872.38 1340.71,1864.60 1342.68,1857.34C1344.65,1850.08 1346.18,1843.90 1348.90,1832.45C1351.62,1820.99 1355.49,1798.68 1359.02,1788.62C1362.54,1778.56 1366.06,1776.98 1370.04,1772.08C1374.02,1767.18 1379.53,1758.91 1382.90,1759.22C1386.27,1759.52 1387.93,1769.32 1390.25,1773.92C1392.58,1778.51 1394.11,1785.56 1396.87,1786.78C1399.63,1788.01 1403.91,1780.35 1406.79,1781.27C1409.67,1782.19 1411.69,1785.56 1414.14,1792.29C1416.59,1799.03 1419.04,1811.28 1421.49,1821.69C1423.94,1832.11 1426.09,1846.50 1428.84,1854.77C1431.60,1863.04 1434.97,1870.08 1438.03,1871.31C1441.09,1872.53 1444.46,1871.00 1447.22,1862.12C1449.97,1853.24 1452.42,1837.62 1454.57,1818.02C1456.71,1798.42 1458.55,1775.14 1460.08,1744.52C1461.61,1713.89 1462.53,1671.01 1463.76,1634.26C1464.98,1597.51 1466.21,1560.76 1467.43,1524.01C1468.66,1487.26 1469.88,1447.44 1471.11,1413.76C1472.33,1380.07 1473.25,1348.83 1474.78,1321.88C1476.31,1294.93 1478.15,1260.63 1480.29,1252.05C1482.44,1243.48 1485.50,1261.85 1487.64,1270.43C1489.79,1279.00 1491.01,1288.80 1493.16,1303.50C1495.30,1318.20 1498.06,1340.25 1500.51,1358.63C1502.96,1377.00 1505.54,1395.65 1507.86,1413.76C1510.17,1431.86 1511.74,1447.14 1514.40,1467.28C1517.06,1487.41 1520.91,1514.37 1523.82,1534.55C1526.74,1554.74 1529.20,1570.43 1531.89,1588.37C1534.59,1606.32 1537.50,1624.26 1539.97,1642.20C1542.43,1660.14 1544.45,1675.83 1546.70,1696.02C1548.94,1716.20 1551.40,1745.35 1553.42,1763.29C1555.44,1781.23 1556.56,1790.20 1558.81,1803.66C1561.05,1817.12 1563.74,1831.47 1566.88,1844.03C1570.02,1856.58 1573.61,1870.94 1577.64,1879.01C1581.68,1887.08 1584.82,1889.33 1591.10,1892.47C1597.38,1895.60 1608.25,1897.36 1615.32,1897.85C1622.38,1898.34 1628.65,1897.60 1633.48,1895.40C1638.30,1893.19 1640.67,1888.43 1644.26,1884.62C1647.86,1880.80 1651.45,1875.40 1655.04,1872.48C1658.64,1869.56 1662.23,1867.99 1665.83,1867.09C1669.42,1866.19 1673.02,1866.19 1676.61,1867.09C1680.20,1867.99 1683.80,1869.79 1687.39,1872.48C1690.99,1875.18 1694.58,1879.22 1698.18,1883.27C1701.77,1887.31 1705.36,1893.60 1708.96,1896.75C1712.55,1899.89 1715.70,1901.01 1719.74,1902.14C1723.78,1903.26 1728.28,1903.04 1733.22,1903.49C1738.16,1903.93 1744.00,1904.38 1749.39,1904.83C1754.79,1905.28 1760.18,1905.96 1765.57,1906.18C1770.96,1906.41 1776.80,1906.63 1781.74,1906.18C1786.68,1905.73 1791.18,1905.51 1795.22,1903.49C1799.26,1901.46 1802.86,1897.64 1806.00,1894.05C1809.15,1890.46 1810.95,1885.74 1814.09,1881.92C1817.24,1878.10 1821.28,1874.51 1824.87,1871.14C1828.47,1867.77 1832.51,1864.85 1835.66,1861.70C1838.80,1858.56 1841.05,1855.41 1843.74,1852.27C1846.44,1849.12 1849.14,1845.98 1851.83,1842.83C1854.53,1839.69 1857.22,1836.32 1859.92,1833.40C1862.61,1830.48 1865.31,1828.90 1868.01,1825.31C1870.70,1821.72 1873.40,1816.77 1876.09,1811.83C1878.79,1806.89 1881.93,1801.05 1884.18,1795.66C1886.43,1790.27 1888.22,1784.87 1889.57,1779.48C1890.92,1774.09 1890.92,1768.47 1892.27,1763.31C1893.61,1758.14 1895.64,1752.08 1897.66,1748.48C1899.68,1744.89 1901.93,1741.74 1904.40,1741.74C1906.87,1741.74 1910.24,1744.44 1912.48,1748.48C1914.73,1752.53 1916.08,1759.04 1917.88,1766.00C1919.67,1772.97 1921.69,1782.18 1923.27,1790.27C1924.84,1798.35 1925.96,1805.99 1927.31,1814.53C1928.66,1823.06 1930.01,1832.50 1931.35,1841.48C1932.70,1850.47 1933.83,1860.35 1935.40,1868.44C1936.97,1876.53 1938.54,1884.17 1940.79,1890.01C1943.04,1895.85 1945.73,1900.34 1948.88,1903.49C1952.02,1906.63 1954.72,1907.75 1959.66,1908.88C1964.60,1910.00 1972.24,1909.55 1978.53,1910.22C1984.82,1910.90 1989.76,1912.47 1997.40,1912.92C2005.04,1913.37 2010.88,1912.92 2024.36,1912.92C2037.83,1912.92 2060.75,1912.92 2078.27,1912.92C2095.79,1912.92 2120.95,1912.92 2129.49,1912.92" fill="none" stroke="#000" stroke-width="7" stroke-linejoin="round" stroke-linecap="round"/></svg></body></html>
